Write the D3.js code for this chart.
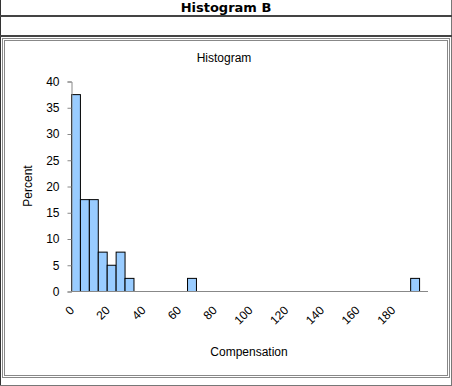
<!DOCTYPE html>
<html>
<head>
<meta charset="utf-8">
<script src="https://cdn.jsdelivr.net/npm/d3@7"></script>
<style>
body { margin: 0; background: #fff; }
text { font-family: "Liberation Sans", Arial, sans-serif; fill: #000; }
</style>
</head>
<body>
<script>
var width = 452
var height = 386

// bins of width 5 (start value) and percent in each
var binStarts = [0, 5, 10, 15, 20, 25, 30, 65, 190]
var percents = [37.5, 17.5, 17.5, 7.5, 5, 7.5, 2.5, 2.5, 2.5]
var binWidth = 5
var xTicks = [0, 20, 40, 60, 80, 100, 120, 140, 160, 180]
var yTicks = [0, 5, 10, 15, 20, 25, 30, 35, 40]

var svg = d3.select('body').append('svg').attr('width', width).attr('height', height)

// page frame
svg.append('line').attr('x1', 0.5).attr('x2', 0.5).attr('y1', 0).attr('y2', height).attr('stroke', '#333')
svg.append('line').attr('x1', 451.5).attr('x2', 451.5).attr('y1', 0).attr('y2', height).attr('stroke', '#777')
svg.append('rect').attr('x', 0).attr('y', 15).attr('width', width).attr('height', 2).attr('fill', '#444')
svg.append('rect').attr('x', 0).attr('y', 35).attr('width', width).attr('height', 2).attr('fill', '#444')
svg.append('line').attr('x1', 0).attr('x2', width).attr('y1', 385.5).attr('y2', 385.5).attr('stroke', '#777')
svg.append('rect').attr('x', 2.5).attr('y', 38.5).attr('width', 447).attr('height', 339).attr('fill', 'none').attr('stroke', '#888')
svg.append('rect').attr('x', 4.5).attr('y', 40.5).attr('width', 443).attr('height', 335).attr('fill', 'none').attr('stroke', '#888')

svg.append('text').text('Histogram B').attr('x', 226).attr('y', 12).attr('text-anchor', 'middle')
    .style('font-size', '13px').style('font-weight', 'bold').style('font-family', '"DejaVu Sans", sans-serif')

var g = svg.append('g')
var xScale = d3.scaleLinear().domain([0, 200]).range([71, 428])
var yScale = d3.scaleLinear().domain([0, 40]).range([291, 81])

g.selectAll('rect.bar').data(binStarts).enter().append('rect').attr('class', 'bar')
    .attr('x', d => xScale(d) + 0.5)
    .attr('width', d => xScale(d + binWidth) - xScale(d))
    .attr('y', (d, i) => yScale(percents[i]) + 0.5)
    .attr('height', (d, i) => yScale(0) - yScale(percents[i]))
    .attr('fill', '#99ccff').attr('stroke', '#000')

var yAxis = d3.axisLeft(yScale).tickValues(yTicks).tickSize(4).tickPadding(8)
var ya = g.append('g').attr('transform', 'translate(71.5,0.5)').call(yAxis)
ya.select('.domain').attr('stroke', '#888')
ya.selectAll('.tick line').attr('stroke', '#888')
ya.selectAll('text').style('font-size', '12px').attr('font-family', null)

g.append('line').attr('x1', 71).attr('x2', xScale(200)).attr('y1', 291.5).attr('y2', 291.5).attr('stroke', '#888')

g.selectAll('text.xl').data(xTicks).enter().append('text').attr('class', 'xl')
    .text(d => d)
    .attr('text-anchor', 'end')
    .attr('transform', d => `translate(${xScale(d) + 4},311) rotate(-45)`)
    .style('font-size', '12px')

svg.append('text').text('Histogram').attr('x', 224).attr('y', 62).attr('text-anchor', 'middle').style('font-size', '12px')
svg.append('text').text('Compensation').attr('x', 249).attr('y', 356).attr('text-anchor', 'middle').style('font-size', '12px')
svg.append('text').text('Percent').attr('transform', 'translate(32,186) rotate(-90)').attr('text-anchor', 'middle').style('font-size', '12px')
</script>
</body>
</html>
